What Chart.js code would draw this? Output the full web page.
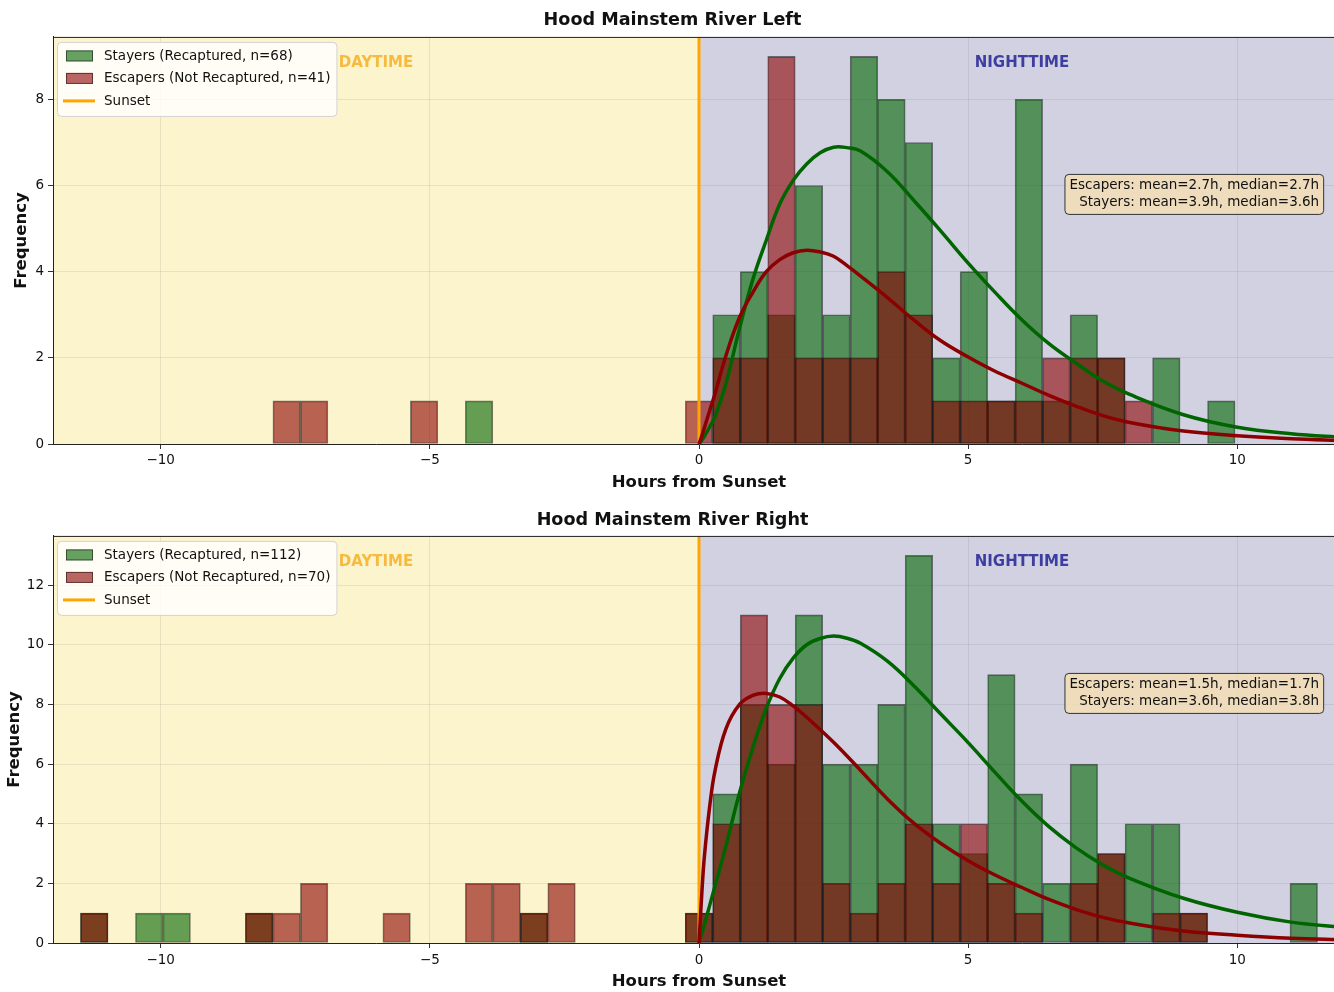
<!DOCTYPE html>
<html>
<head>
<meta charset="utf-8">
<script src="https://cdn.jsdelivr.net/npm/chart.js@4/dist/chart.umd.min.js"></script>
<style>
  html, body { margin: 0; padding: 0; background: #fff; overflow: hidden; }
  #wrap { position: relative; width: 1334px; height: 992px; overflow: hidden; }
  .panel { position: absolute; left: 0; width: 1345px; height: 496px; }
</style>
</head>
<body>
<div id="wrap">
  <div class="panel" style="top:0"><canvas id="leftBank" width="1345" height="496"></canvas></div>
  <div class="panel" style="top:496px"><canvas id="rightBank" width="1345" height="496"></canvas></div>
</div>
<script>
// Histogram bins: 47 equal bins spanning -12 h .. +12 h relative to sunset
const BIN_MIN = -12;
const BIN_MAX = 12;
const BIN_COUNT = 47;

const X_TICKS = [-10, -5, 0, 5, 10];
const SUNSET_HOUR = 0;

// ---- Hood Mainstem River Left: counts per bin ----
const LEFT_STAYERS = [0,0,0,0,0, 0,0,0,0,0, 0,0,0,0,0, 1,0,0,0,0, 0,0,0,0,3,
                      4,3,6,3,9, 8,7,2,4,1, 8,1,3,2,0, 2,0,1,0,0, 0,0];
const LEFT_ESCAPERS = [0,0,0,0,0, 0,0,0,1,1, 0,0,0,1,0, 0,0,0,0,0, 0,0,0,1,2,
                       2,9,2,2,2, 4,3,1,1,1, 1,2,2,2,1, 0,0,0,0,0, 0,0];
const LEFT_Y_TICKS = [0, 2, 4, 6, 8];
const LEFT_Y_MAX = 9.45;
const LEFT_ESCAPER_STATS = [2.7, 2.7];   // mean, median (h)
const LEFT_STAYER_STATS = [3.9, 3.6];

// ---- Hood Mainstem River Right: counts per bin ----
const RIGHT_STAYERS = [0,1,0,1,1, 0,0,1,0,0, 0,0,0,0,0, 0,0,1,0,0, 0,0,0,1,5,
                       8,6,11,6,6, 8,13,4,3,9, 5,2,6,3,4, 4,1,0,0,0, 2,0];
const RIGHT_ESCAPERS = [0,1,0,0,0, 0,0,1,1,2, 0,0,1,0,0, 2,2,1,2,0, 0,0,0,1,4,
                        11,8,8,2,1, 2,4,2,4,2, 1,0,2,3,0, 1,1,0,0,0, 0,0];
const RIGHT_Y_TICKS = [0, 2, 4, 6, 8, 10, 12];
const RIGHT_Y_MAX = 13.65;
const RIGHT_ESCAPER_STATS = [1.5, 1.7];
const RIGHT_STAYER_STATS = [3.6, 3.8];

// ---- Fitted density curves (scaled to counts), nighttime only ----
const FIT_HOURS = [0, 0.05, 0.1, 0.2, 0.3, 0.5, 0.75, 1, 1.25, 1.5, 1.75, 2, 2.25, 2.5, 2.75, 3,
                   3.5, 4, 4.5, 5, 5.5, 6, 6.5, 7, 7.5, 8, 9, 10, 11, 12];
const LEFT_STAYERS_FIT = [0, 0.08, 0.18, 0.4, 0.64, 1.4, 2.67, 3.82, 4.73, 5.57, 6.12, 6.5, 6.76, 6.89, 6.88, 6.80,
                          6.32, 5.64, 4.93, 4.20, 3.52, 2.88, 2.33, 1.88, 1.46, 1.15, 0.68, 0.39, 0.24, 0.15];
const LEFT_ESCAPERS_FIT = [0, 0.18, 0.38, 0.78, 1.18, 2.05, 2.93, 3.52, 4.0, 4.28, 4.44, 4.5, 4.46, 4.36, 4.14, 3.90,
                           3.40, 2.87, 2.39, 2.02, 1.69, 1.41, 1.13, 0.88, 0.66, 0.50, 0.30, 0.19, 0.12, 0.08];
const RIGHT_STAYERS_FIT = [0, 0.3, 0.62, 1.27, 1.93, 3.25, 5.02, 6.55, 7.87, 8.87, 9.55, 10.0, 10.21, 10.29, 10.22, 10.05,
                           9.45, 8.61, 7.66, 6.72, 5.72, 4.75, 3.9, 3.2, 2.62, 2.17, 1.50, 1.03, 0.70, 0.52];
const RIGHT_ESCAPERS_FIT = [0, 1.6, 2.9, 4.6, 5.8, 7.18, 7.99, 8.3, 8.37, 8.25, 7.95, 7.57, 7.16, 6.73, 6.27, 5.79,
                            4.83, 4.0, 3.33, 2.76, 2.28, 1.86, 1.46, 1.13, 0.86, 0.67, 0.40, 0.26, 0.16, 0.11];

// ---- styling ----
const FONT = '"DejaVu Sans", sans-serif';
const STAY_FILL = 'rgba(0,100,0,0.6)';
const ESC_FILL = 'rgba(139,0,0,0.6)';
const BAR_EDGE = 'rgba(0,0,0,0.5)';
const STAY_LINE = 'rgb(0,100,0)';
const ESC_LINE = 'rgb(139,0,0)';
const SUNSET_COLOR = 'rgb(255,165,0)';
const DAY_BG = 'rgb(252,244,205)';
const NIGHT_BG = 'rgb(209,209,226)';
const TEXT = '#111';

const binWidth = (BIN_MAX - BIN_MIN) / BIN_COUNT;
const binCenters = Array.from({ length: BIN_COUNT }, (_, i) => BIN_MIN + (i + 0.5) * binWidth);
const sum = arr => arr.reduce((a, b) => a + b, 0);
const fmt = v => (v < 0 ? '\u2212' + Math.abs(v) : String(v));

// day / night shading, zone labels and top frame line
const zonePlugin = {
  id: 'zones',
  beforeDraw(chart) {
    const { ctx, chartArea: a, scales: { x } } = chart;
    const xs = x.getPixelForValue(SUNSET_HOUR);
    ctx.save();
    ctx.fillStyle = DAY_BG;
    ctx.fillRect(a.left, a.top, xs - a.left, a.bottom - a.top);
    ctx.fillStyle = NIGHT_BG;
    ctx.fillRect(xs, a.top, a.right - xs, a.bottom - a.top);
    ctx.restore();
  },
  beforeDatasetsDraw(chart) {
    const { ctx, chartArea: a, scales: { x } } = chart;
    ctx.save();
    ctx.font = 'bold 15px ' + FONT;
    ctx.textAlign = 'center';
    ctx.textBaseline = 'middle';
    ctx.fillStyle = 'rgb(247,186,62)';
    ctx.fillText('DAYTIME', x.getPixelForValue(-6), a.top + 26);
    ctx.fillStyle = 'rgb(62,62,160)';
    ctx.fillText('NIGHTTIME', x.getPixelForValue(6), a.top + 26);
    ctx.restore();
  },
  afterDraw(chart) {
    const { ctx, chartArea: a } = chart;
    ctx.save();
    ctx.strokeStyle = '#222';
    ctx.lineWidth = 1;
    ctx.beginPath();
    ctx.moveTo(a.left, a.top + 0.5);
    ctx.lineTo(a.right, a.top + 0.5);
    ctx.stroke();
    ctx.restore();
  }
};

function roundRect(ctx, x, y, w, h, r) {
  ctx.beginPath();
  ctx.moveTo(x + r, y);
  ctx.lineTo(x + w - r, y);
  ctx.arcTo(x + w, y, x + w, y + r, r);
  ctx.lineTo(x + w, y + h - r);
  ctx.arcTo(x + w, y + h, x + w - r, y + h, r);
  ctx.lineTo(x + r, y + h);
  ctx.arcTo(x, y + h, x, y + h - r, r);
  ctx.lineTo(x, y + r);
  ctx.arcTo(x, y, x + r, y, r);
  ctx.closePath();
}

// legend in the upper-left corner of the plot area
const legendPlugin = {
  id: 'cornerLegend',
  afterDraw(chart) {
    const { ctx, chartArea: a } = chart;
    const items = chart.data.datasets.filter(d => d.label);
    ctx.save();
    ctx.font = '13.5px ' + FONT;
    const maxW = Math.max(...items.map(d => ctx.measureText(d.label).width));
    const bx = a.left + 4, by = a.top + 5, bw = 47 + maxW + 6, bh = 74;
    roundRect(ctx, bx + 0.5, by + 0.5, bw, bh, 4);
    ctx.fillStyle = 'rgba(255,255,255,0.8)';
    ctx.fill();
    ctx.strokeStyle = 'rgb(210,210,210)';
    ctx.lineWidth = 1;
    ctx.stroke();
    items.forEach((d, i) => {
      const cy = a.top + 19 + i * 22.5;
      if (d.type === 'bar') {
        ctx.fillStyle = d.backgroundColor;
        ctx.fillRect(a.left + 13, cy - 5.5, 27, 11);
        ctx.strokeStyle = d.borderColor;
        ctx.strokeRect(a.left + 13.5, cy - 5, 26, 10);
      } else {
        ctx.strokeStyle = d.borderColor;
        ctx.lineWidth = 3;
        ctx.beginPath();
        ctx.moveTo(a.left + 10, cy);
        ctx.lineTo(a.left + 42, cy);
        ctx.stroke();
        ctx.lineWidth = 1;
      }
      ctx.fillStyle = TEXT;
      ctx.textAlign = 'left';
      ctx.textBaseline = 'middle';
      ctx.fillText(d.label, a.left + 51, cy + 0.5);
    });
    ctx.restore();
  }
};

// summary statistics box on the right
const statsPlugin = {
  id: 'statsBox',
  afterDraw(chart) {
    const lines = chart.options.plugins.statsBox.lines;
    const { ctx, chartArea: a } = chart;
    ctx.save();
    ctx.font = '13.5px ' + FONT;
    const right = a.left + 0.98 * (a.right - a.left);
    const maxW = Math.max(...lines.map(t => ctx.measureText(t).width));
    const top = a.top + 137, h = 40;
    roundRect(ctx, right - maxW - 5 + 0.5, top + 0.5, maxW + 9, h, 4);
    ctx.fillStyle = 'rgba(245,222,179,0.8)';
    ctx.fill();
    ctx.strokeStyle = '#333';
    ctx.lineWidth = 1;
    ctx.stroke();
    ctx.fillStyle = TEXT;
    ctx.textAlign = 'right';
    ctx.textBaseline = 'middle';
    lines.forEach((t, i) => ctx.fillText(t, right, top + 12 + i * 17));
    ctx.restore();
  }
};

function makeChart(id, opt) {
  const nStay = sum(opt.stayers), nEsc = sum(opt.escapers);
  const barData = counts => binCenters.map((c, i) => ({ x: c, y: counts[i] > 0 ? counts[i] : null }));
  const fitData = vals => FIT_HOURS.map((h, i) => ({ x: h, y: vals[i] }));
  const barCommon = {
    type: 'bar', grouped: false, barPercentage: 1, categoryPercentage: 1,
    borderColor: BAR_EDGE, borderWidth: 1, borderSkipped: false
  };
  const fitCommon = { type: 'line', borderWidth: 3.5, pointRadius: 0, tension: 0.4 };
  return new Chart(document.getElementById(id), {
    data: {
      datasets: [
        Object.assign({}, barCommon, {
          label: `Stayers (Recaptured, n=${nStay})`,
          data: barData(opt.stayers), backgroundColor: STAY_FILL, order: 5
        }),
        Object.assign({}, barCommon, {
          label: `Escapers (Not Recaptured, n=${nEsc})`,
          data: barData(opt.escapers), backgroundColor: ESC_FILL, order: 4
        }),
        {
          type: 'line', label: 'Sunset',
          data: [{ x: SUNSET_HOUR, y: 0 }, { x: SUNSET_HOUR, y: opt.yMax }],
          borderColor: SUNSET_COLOR, borderWidth: 3, pointRadius: 0, order: 3
        },
        Object.assign({}, fitCommon, { data: fitData(opt.stayersFit), borderColor: STAY_LINE, order: 2 }),
        Object.assign({}, fitCommon, { data: fitData(opt.escapersFit), borderColor: ESC_LINE, order: 1 })
      ]
    },
    options: {
      responsive: false,
      animation: false,
      events: [],
      devicePixelRatio: 1,
      layout: { padding: 0 },
      plugins: {
        legend: { display: false },
        tooltip: { enabled: false },
        title: {
          display: true, text: opt.title, color: TEXT,
          font: { family: FONT, size: 17.6, weight: 'bold' },
          padding: { top: opt.titlePadTop, bottom: opt.titlePadBottom }
        },
        statsBox: {
          lines: [
            `Escapers: mean=${opt.escStats[0].toFixed(1)}h, median=${opt.escStats[1].toFixed(1)}h`,
            `Stayers: mean=${opt.stayStats[0].toFixed(1)}h, median=${opt.stayStats[1].toFixed(1)}h`
          ]
        }
      },
      scales: {
        x: {
          type: 'linear', min: BIN_MIN, max: BIN_MAX, offset: false,
          afterBuildTicks: s => { s.ticks = X_TICKS.map(v => ({ value: v })); },
          afterFit: s => { s.height = opt.xAxisHeight; },
          ticks: {
            color: TEXT, font: { family: FONT, size: 13.5 }, padding: opt.xTickPad,
            maxRotation: 0, autoSkip: false, callback: v => fmt(v)
          },
          grid: { offset: false, color: 'rgba(90,90,90,0.12)', tickColor: '#333', tickLength: 5, lineWidth: 1 },
          border: { display: true, color: '#222', width: 1 },
          title: {
            display: true, text: 'Hours from Sunset', color: TEXT,
            font: { family: FONT, size: 16.5, weight: 'bold' },
            padding: { top: 0, bottom: opt.xTitlePadBottom }
          }
        },
        y: {
          type: 'linear', min: 0, max: opt.yMax,
          afterBuildTicks: s => { s.ticks = opt.yTicks.map(v => ({ value: v })); },
          afterFit: s => { s.width = 53; },
          ticks: {
            color: TEXT, font: { family: FONT, size: 13.5 }, padding: 4,
            autoSkip: false, callback: v => fmt(v)
          },
          grid: { color: 'rgba(90,90,90,0.12)', tickColor: '#333', tickLength: 5, lineWidth: 1 },
          border: { display: true, color: '#222', width: 1 },
          title: {
            display: true, text: 'Frequency', color: TEXT,
            font: { family: FONT, size: 16.5, weight: 'bold' },
            padding: { top: opt.yTitlePadTop, bottom: 0 }
          }
        }
      }
    },
    plugins: [zonePlugin, legendPlugin, statsPlugin]
  });
}

makeChart('leftBank', {
  title: 'Hood Mainstem River Left',
  stayers: LEFT_STAYERS, escapers: LEFT_ESCAPERS,
  stayersFit: LEFT_STAYERS_FIT, escapersFit: LEFT_ESCAPERS_FIT,
  escStats: LEFT_ESCAPER_STATS, stayStats: LEFT_STAYER_STATS,
  yTicks: LEFT_Y_TICKS, yMax: LEFT_Y_MAX,
  titlePadTop: 9.4, titlePadBottom: 6.4,
  xAxisHeight: 52, xTickPad: 3, xTitlePadBottom: 3,
  yTitlePadTop: 12
});

makeChart('rightBank', {
  title: 'Hood Mainstem River Right',
  stayers: RIGHT_STAYERS, escapers: RIGHT_ESCAPERS,
  stayersFit: RIGHT_STAYERS_FIT, escapersFit: RIGHT_ESCAPERS_FIT,
  escStats: RIGHT_ESCAPER_STATS, stayStats: RIGHT_STAYER_STATS,
  yTicks: RIGHT_Y_TICKS, yMax: RIGHT_Y_MAX,
  titlePadTop: 13.4, titlePadBottom: 5.4,
  xAxisHeight: 49, xTickPad: 4, xTitlePadBottom: 0,
  yTitlePadTop: 5
});
</script>
</body>
</html>
